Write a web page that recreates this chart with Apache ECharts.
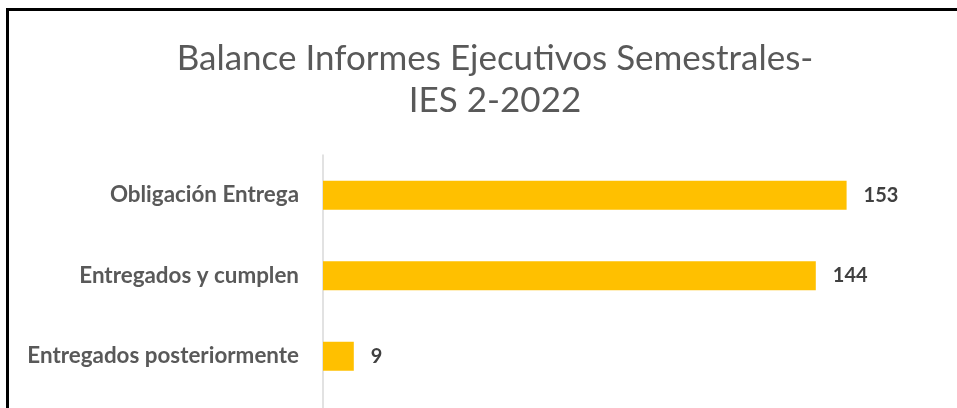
<!DOCTYPE html>
<html>
<head>
<meta charset="utf-8">
<script src="https://cdn.jsdelivr.net/npm/echarts@6/dist/echarts.min.js"></script>
<style>
  html, body { margin: 0; padding: 0; background: #ffffff; }
  #chart { position: absolute; left: 0; top: 0; width: 957px; height: 408px; }
  #frame {
    position: absolute; left: 6px; top: 8px; width: 1000px; height: 500px;
    border-left: 3px solid #000; border-top: 3px solid #000;
    box-sizing: border-box; pointer-events: none;
  }
</style>
</head>
<body>
<div id="chart"></div>
<div id="frame"></div>
<script>
// Report balance: executive semester reports, IES 2-2022
const titleLines = ['Balance Informes Ejecutivos Semestrales-', 'IES 2-2022'];
const categories = ['Obligación Entrega', 'Entregados y cumplen', 'Entregados posteriormente'];
const values = [153, 144, 9];

const chart = echarts.init(document.getElementById('chart'), null, { renderer: 'canvas' });

const PLOT_LEFT = 323;
const PLOT_TOP = 155;

chart.setOption({
  backgroundColor: '#ffffff',
  animation: false,
  title: {
    text: titleLines.join('\n'),
    left: 490,
    top: 33,
    textAlign: 'center',
    textStyle: {
      fontFamily: 'Lato',
      fontSize: 35,
      fontWeight: 'normal',
      color: '#595959',
      lineHeight: 42
    }
  },
  grid: [
    // bars and category labels
    { left: PLOT_LEFT, right: 18, top: PLOT_TOP, bottom: 11.5, containLabel: false },
    // vertical axis rule running down past the last band
    { left: PLOT_LEFT, right: 18, top: PLOT_TOP, bottom: -6, containLabel: false }
  ],
  xAxis: [
    { type: 'value', gridIndex: 0, min: 0, max: 180, show: false },
    { type: 'value', gridIndex: 1, min: 0, max: 180, show: false }
  ],
  yAxis: [
    {
      type: 'category',
      gridIndex: 0,
      data: categories,
      inverse: true,
      axisLine: { show: false },
      axisTick: { show: false },
      axisLabel: {
        margin: 24,
        fontFamily: 'Lato',
        fontSize: 22.4,
        fontWeight: 'bold',
        color: '#595959'
      },
      splitLine: { show: false }
    },
    {
      type: 'value',
      gridIndex: 1,
      min: 0,
      max: 1,
      axisLine: { show: true, lineStyle: { color: '#d9d9d9', width: 1.5 } },
      axisTick: { show: false },
      axisLabel: { show: false },
      splitLine: { show: false }
    }
  ],
  series: [{
    type: 'bar',
    xAxisIndex: 0,
    yAxisIndex: 0,
    data: values,
    barWidth: 29,
    itemStyle: { color: '#ffc000' },
    label: {
      show: true,
      position: 'right',
      distance: 17,
      fontFamily: 'Lato',
      fontSize: 20,
      fontWeight: 'bold',
      color: '#404040'
    }
  }]
});
</script>
</body>
</html>
